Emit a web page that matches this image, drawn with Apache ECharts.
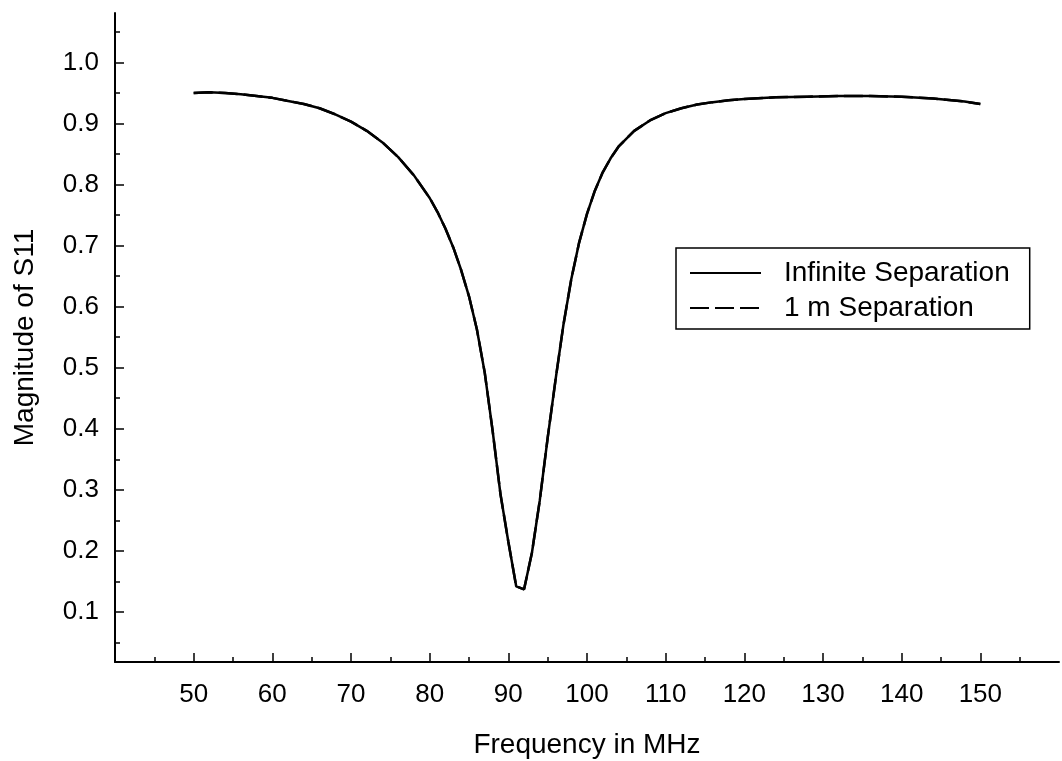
<!DOCTYPE html>
<html>
<head>
<meta charset="utf-8">
<script src="https://cdn.jsdelivr.net/npm/echarts@6/dist/echarts.min.js"></script>
<style>
  html, body { margin: 0; padding: 0; background: #fff; }
  #main { width: 1062px; height: 761px; }
</style>
</head>
<body>
<div id="main"></div>
<script>
// frequency points (MHz)
var freq = [50,52,54,56,58,60,62,64,66,68,70,72,74,76,78,80,81,82,83,84,85,86,87,88,89,90,91,92,93,94,95,96,97,98,99,100,101,102,103,104,106,108,110,112,114,116,118,120,124,128,132,136,140,144,148,150];
// |S11|, infinite separation
var s11Inf = [0.950,0.951,0.950,0.948,0.945,0.942,0.937,0.932,0.925,0.915,0.903,0.888,0.869,0.845,0.815,0.778,0.755,0.728,0.697,0.660,0.617,0.563,0.492,0.397,0.293,0.215,0.142,0.137,0.197,0.283,0.385,0.480,0.570,0.645,0.705,0.752,0.790,0.820,0.843,0.862,0.888,0.905,0.917,0.925,0.931,0.935,0.938,0.940,0.943,0.944,0.945,0.945,0.944,0.941,0.936,0.932];
// |S11|, 1 m separation (lies on top of the other curve)
var s11OneM = s11Inf.slice();

var xLabels = [50,60,70,80,90,100,110,120,130,140,150];
var xMinor = [45,55,65,75,85,95,105,115,125,135,145,155];
var yLabels = [0.1,0.2,0.3,0.4,0.5,0.6,0.7,0.8,0.9,1.0];
var yMinor = [0.05,0.15,0.25,0.35,0.45,0.55,0.65,0.75,0.85,0.95,1.05];

function pairs(xs, ys) {
  var out = [];
  for (var i = 0; i < xs.length; i++) out.push([xs[i], ys[i]]);
  return out;
}

var font = 'Liberation Sans, Arial, sans-serif';
var fs = 26;   // tick labels
var fsName = 28; // axis names, legend

var chart = echarts.init(document.getElementById('main'));
chart.setOption({
  animation: false,
  backgroundColor: '#fff',
  grid: { left: 115, right: 3, top: 13, bottom: 99, outerBoundsMode: 'none', containLabel: false },
  legend: {
    left: 676, top: 248,
    orient: 'vertical',
    itemWidth: 71, itemHeight: 28, itemGap: 7,
    padding: [11, 20, 7, 13],
    borderColor: '#000', borderWidth: 1.5,
    itemStyle: { opacity: 0 },
    textStyle: { color: '#000', fontSize: fsName, fontFamily: font, padding: [0, 0, 0, 18] },
    data: ['Infinite Separation', '1 m Separation']
  },
  xAxis: [{
    type: 'value', min: 40, max: 160,
    name: 'Frequency in MHz', nameLocation: 'middle', nameGap: 69,
    nameTextStyle: { color: '#000', fontSize: fsName, fontFamily: font },
    splitLine: { show: false },
    axisLine: { lineStyle: { color: '#000', width: 2 } },
    axisTick: { inside: true, length: 9, customValues: xLabels, lineStyle: { color: '#000', width: 1.5 } },
    axisLabel: { customValues: xLabels, margin: 20, color: '#000', fontSize: fs, fontFamily: font }
  }, {
    type: 'value', min: 40, max: 160, position: 'bottom',
    splitLine: { show: false },
    axisLine: { show: false },
    axisTick: { inside: true, length: 5, customValues: xMinor, lineStyle: { color: '#000', width: 1.5 } },
    axisLabel: { show: false }
  }],
  yAxis: [{
    type: 'value', min: 0.018, max: 1.081,
    name: 'Magnitude of S11', nameLocation: 'middle', nameGap: 76,
    nameTextStyle: { color: '#000', fontSize: fsName, fontFamily: font },
    splitLine: { show: false },
    axisLine: { show: true, lineStyle: { color: '#000', width: 2 } },
    axisTick: { show: true, inside: true, length: 9, customValues: yLabels, lineStyle: { color: '#000', width: 1.5 } },
    axisLabel: {
      customValues: yLabels, margin: 16, color: '#000', fontSize: fs, fontFamily: font,
      formatter: function (v) { return v.toFixed(1); }
    }
  }, {
    type: 'value', min: 0.018, max: 1.081, position: 'left',
    splitLine: { show: false },
    axisLine: { show: false },
    axisTick: { show: true, inside: true, length: 5, customValues: yMinor, lineStyle: { color: '#000', width: 1.5 } },
    axisLabel: { show: false }
  }],
  series: [{
    name: 'Infinite Separation', type: 'line',
    data: pairs(freq, s11Inf),
    symbol: 'none', smooth: false,
    lineStyle: { color: '#000', width: 2.5, type: 'solid' },
    itemStyle: { color: '#000' }
  }, {
    name: '1 m Separation', type: 'line',
    data: pairs(freq, s11OneM),
    symbol: 'none', smooth: false,
    lineStyle: { color: '#000', width: 2.5, type: [19, 6] },
    itemStyle: { color: '#000' }
  }]
});
</script>
</body>
</html>
